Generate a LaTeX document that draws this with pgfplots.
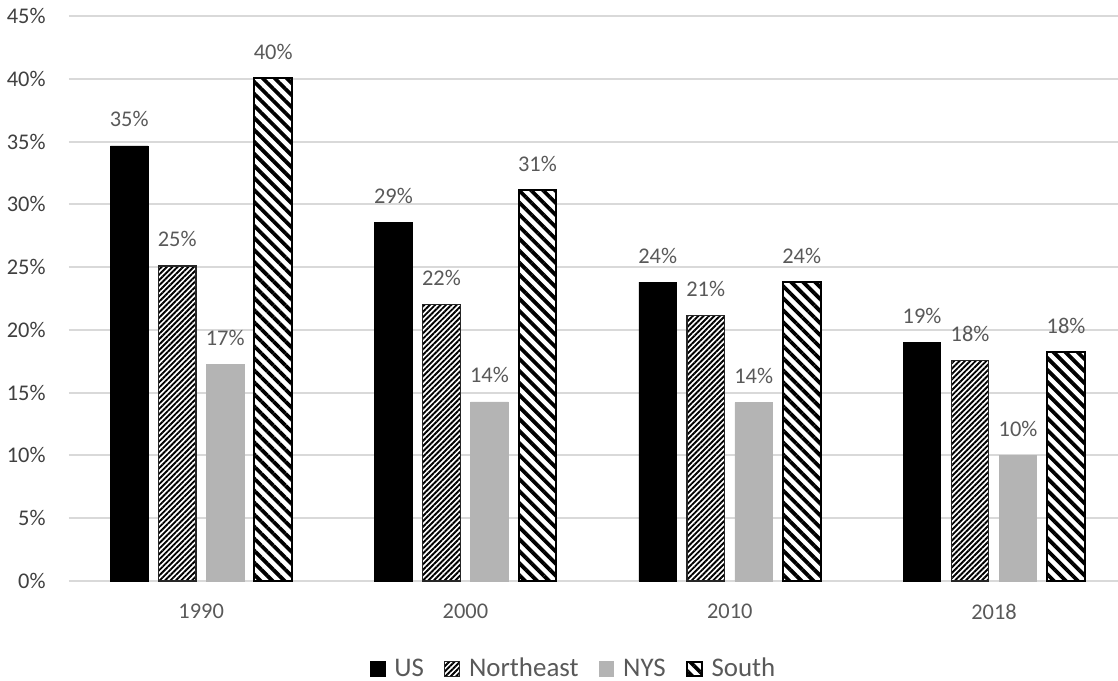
\documentclass[border=0pt]{standalone}
\usepackage{pgfplots}
\pgfplotsset{compat=1.18}
\usetikzlibrary{patterns.meta}
\usepackage{fontspec}
\setmainfont{Carlito}
\definecolor{txt}{HTML}{595959}
\definecolor{ytxt}{HTML}{404040}
\definecolor{gridc}{HTML}{D9D9D9}
\definecolor{nysc}{HTML}{B4B4B4}
\begin{document}
\begin{tikzpicture}
\useasboundingbox (-34.5bp,-50bp) rectangle (524.5bp,290.5bp);
\begin{axis}[
  at={(0,0)}, anchor=south west,
  scale only axis, width=524.5bp, height=282.5bp,
  ymin=0, ymax=45, xmin=-0.5, xmax=3.469,
  ybar=5.2bp, bar width=18.8bp,
  xtick={0,1,2,3}, xticklabels={1990,2000,2010,2018},
  ytick={0,5,...,45},
  yticklabel={\pgfmathprintnumber{\tick}\%},
  /pgf/number format/assume math mode=true,
  ymajorgrids, grid style={draw=gridc, line width=1bp},
  axis line style={draw=none}, major tick length=0pt,
  tick label style={font=\fontsize{11.25}{13}\selectfont},
  yticklabel style={text=ytxt, anchor=east, inner sep=0pt, xshift=-11.5bp},
  xticklabel style={text=txt, anchor=north, inner sep=0pt, yshift=-11.5bp},
  nodes near coords={\pgfmathprintnumber[fixed,precision=0]{\pgfplotspointmeta}\%},
  every node near coord/.append style={font=\fontsize{11.25}{13}\selectfont, text=txt, anchor=base, inner sep=0pt, yshift=9.5bp},
  legend style={at={(0.482,-0.1558)}, anchor=center, draw=none, fill=none,
    legend columns=4, font=\fontsize{13.5}{16}\selectfont, text=txt,
    /tikz/every odd column/.append style={column sep=2.5bp},
    /tikz/every even column/.append style={column sep=8bp},
    inner sep=0pt},
  legend image code/.code={\draw[#1] (0bp,-3.7bp) rectangle (7.4bp,3.7bp);},
]
\addplot[fill=black, draw=black, line width=0.4bp]
  coordinates {(0,34.65) (1,28.59) (2,23.81) (3,19.0)};
\addplot[draw=black!85, line width=0.6bp, preaction={fill=white},
  pattern={Lines[angle=45,distance=1.9bp,line width=0.95bp]}, pattern color=black]
  coordinates {(0,25.09) (1,22.0) (2,21.16) (3,17.55)};
\addplot[fill=nysc, draw=nysc, line width=0.4bp]
  coordinates {(0,17.23) (1,14.26) (2,14.2) (3,9.98)};
\addplot[draw=black, line width=1bp, preaction={fill=white},
  pattern={Lines[angle=-45,distance=4.25bp,line width=1.9bp]}, pattern color=black]
  coordinates {(0,40.04) (1,31.14) (2,23.81) (3,18.2)};
\legend{US,Northeast,NYS,South}
\end{axis}
\end{tikzpicture}
\end{document}
